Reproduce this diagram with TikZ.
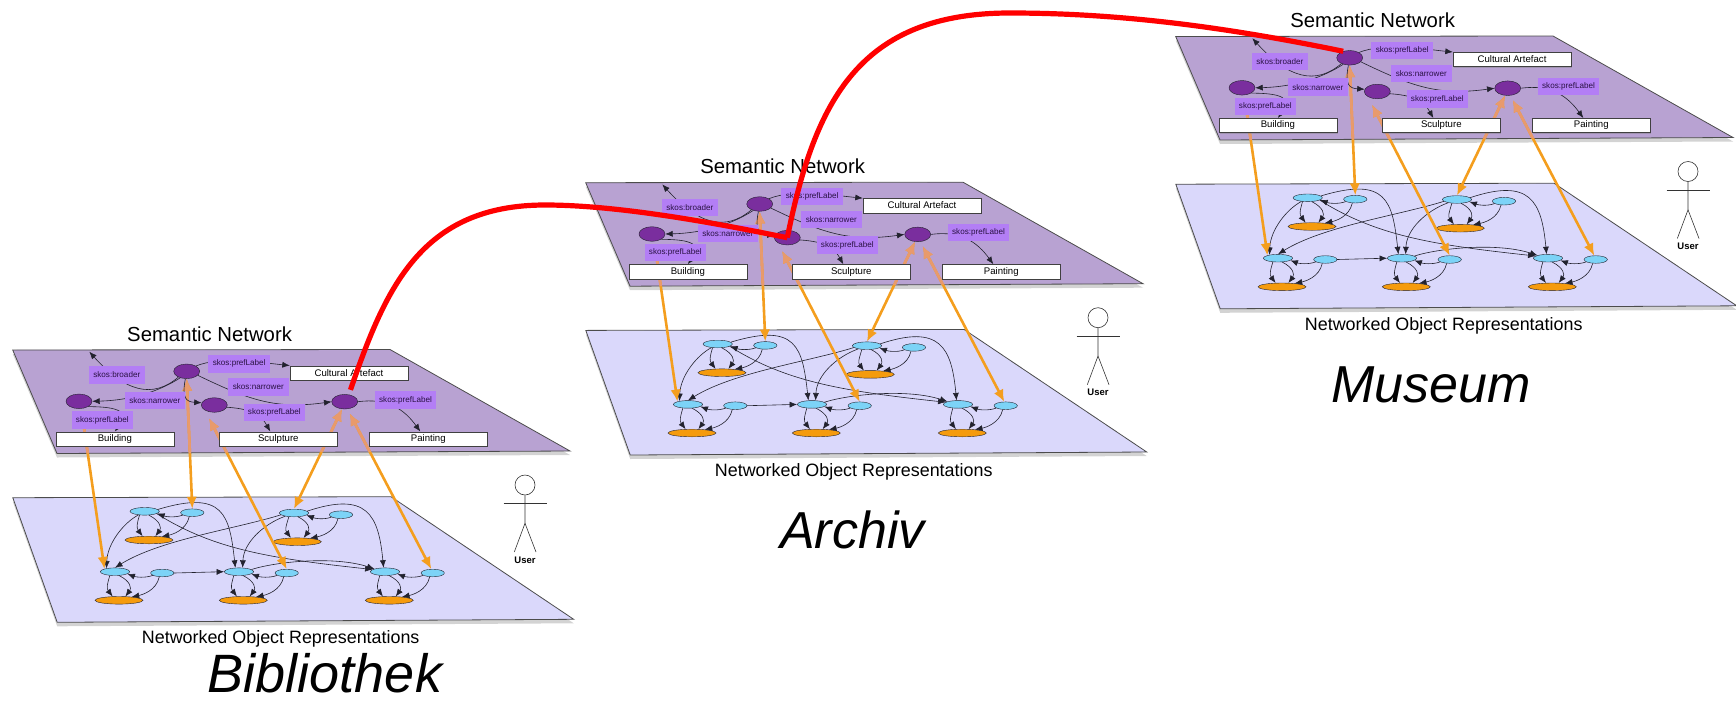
\documentclass[tikz,border=0pt]{standalone}
\usepackage{fontspec}
\setmainfont{Liberation Sans}
\usetikzlibrary{shapes, arrows.meta, shadows}
\definecolor{planeup}{HTML}{B8A2D2}
\definecolor{planelow}{HTML}{DAD8FB}
\definecolor{termbg}{HTML}{B37EF5}
\definecolor{termink}{HTML}{2A1244}
\definecolor{conceptbg}{HTML}{7A2E9E}
\definecolor{objblue}{HTML}{7CD3F7}
\definecolor{objorange}{HTML}{F59B0D}
\definecolor{linkorange}{HTML}{F49E1E}
\definecolor{linksalmon}{HTML}{E89A6C}
\definecolor{edgeink}{HTML}{22222E}
\newcommand{\sz}[1]{\fontsize{#1}{#1}\selectfont}
% the orange links between both layers, drawn twice (second time clipped to the upper plane)
\newcommand{\orangelinks}[1]{%
  \draw[maplink,#1,->] (\pre-foot) -- (\pre-c1.north west);
  \draw[maplink,#1,<->] (\pre-n1.south) -- (\pre-a2.north);
  \draw[maplink,#1,<->,shorten <=9pt] (\pre-n3.south west) -- (\pre-d2.north);
  \draw[maplink,#1,<->] (\pre-n4.250) -- (\pre-b1.north);
  \draw[maplink,#1,<->,shorten <=5pt] (\pre-n4.290) -- (\pre-e2.110);
}

\begin{document}
\begin{tikzpicture}[
  x=1pt, y=-1pt,
  plane/.style    = {draw=black!70, line width=0.8pt, drop shadow={shadow xshift=0pt, shadow yshift=-4pt, opacity=.35}},
  concept/.style  = {draw=edgeink, ellipse, inner sep=0, fill=conceptbg, minimum width=26pt, minimum height=14.6pt},
  mainobj/.style  = {draw=edgeink, ellipse, inner sep=0, fill=objblue, minimum width=29.4pt, minimum height=7.6pt},
  sideobj/.style  = {mainobj, minimum width=23.4pt},
  baseobj/.style  = {mainobj, fill=objorange, minimum width=48pt},
  whitebox/.style = {draw=black!75, fill=white, inner sep=0, minimum width=118pt, minimum height=14.3pt, font=\sz{9.6},
                     drop shadow={shadow xshift=1pt, shadow yshift=-1pt, opacity=.4}},
  term/.style     = {fill=termbg, text=termink, inner sep=0, minimum width=61.5pt, minimum height=17.5pt, font=\sz{8.1}},
  thinlink/.style = {draw=edgeink, line width=0.6pt, >={Latex[length=7.5pt,width=6pt]}},
  maplink/.style  = {line width=2.6pt, >={Latex[length=12pt,width=10.5pt]}},
  redlink/.style  = {draw=red, line width=5.2pt},
  stick/.style    = {draw=black!80, line width=0.6pt},
  place/.style    = {font=\itshape\sz{52}, anchor=base, inner sep=0}]

\useasboundingbox (0,0) rectangle (1736,704);

\foreach \pre/\sx/\sy in {B/0/0, A/573/-167.3, M/1163/-313.5} {
\begin{scope}[shift={(\sx,\sy)}]

% lower layer, plane and objects
\draw[plane, fill=planelow] (12.8,497.7) -- (391,496.7) -- (573.7,619.3) -- (57.2,622.3) -- cycle;
\node[mainobj] (\pre-a1) at (144.7,511.3) {};
\node[sideobj] (\pre-a2) at (192.3,512.7) {};
\node[baseobj] (\pre-a3) at (149,540) {};
\node[mainobj] (\pre-b1) at (294,513) {};
\node[sideobj] (\pre-b2) at (341,514.7) {};
\node[baseobj] (\pre-b3) at (297.3,541.7) {};
\node[mainobj] (\pre-c1) at (115,571.7) {};
\node[sideobj] (\pre-c2) at (162.3,573) {};
\node[baseobj] (\pre-c3) at (119,600.3) {};
\node[mainobj] (\pre-d1) at (239,571.7) {};
\node[sideobj] (\pre-d2) at (286.7,573) {};
\node[baseobj] (\pre-d3) at (243.3,600.3) {};
\node[mainobj] (\pre-e1) at (385,571.7) {};
\node[sideobj] (\pre-e2) at (432.7,573) {};
\node[baseobj] (\pre-e3) at (389.3,600.3) {};

% every object with its neighbours
\foreach \cl in {a,b,c,d,e} {
  \draw[thinlink,->] (\pre-\cl1.216) .. controls +(-3,10) and +(-6,-8) .. (\pre-\cl3.149);
  \draw[thinlink,->] (\pre-\cl1.317) .. controls +(12,6) and +(6,-8) .. (\pre-\cl3.31);
  \draw[thinlink,->] (\pre-\cl2.194) .. controls +(-8,3) and +(8,3) .. (\pre-\cl1.350);
  \draw[thinlink,->] (\pre-\cl2.232) .. controls +(-3,14) and +(10,-2) .. (\pre-\cl3.15);
}

% links across the objects
\draw[thinlink,->] (\pre-a1.8) .. controls +(66,-20) and +(-6,-53) .. (\pre-d1.133);
\draw[thinlink,->] (\pre-a1.210) .. controls +(-15,8) and +(1,-25) .. (\pre-c1.159);
\draw[thinlink,->] (\pre-b1.188) .. controls +(-45,14) and +(45,-28) .. (\pre-c1.north);
\draw[thinlink,->] (\pre-b1.200) .. controls +(-22,8) and +(1,-25) .. (\pre-d1.47);
\draw[thinlink,->] (\pre-b1.8) .. controls +(60,-20) and +(-5,-53) .. (\pre-e1.110);
\draw[thinlink,->] (\pre-a1.349) .. controls +(57,36) and +(-101,-11) .. (\pre-e1.170);
\draw[thinlink,->] (\pre-d1.10) .. controls +(25,-8) and +(-40,-13) .. (\pre-e1.165);
\draw[thinlink,->] (\pre-c2.east) -- (\pre-d1.west);

% upper layer, plane and concepts
\draw[plane, fill=planeup] (12.7,350) -- (390,349.5) -- (570,451) -- (57,453.5) -- cycle;
\node[concept] (\pre-n1) at (186.7,371.3) {};
\node[concept] (\pre-n2) at (79,401.3) {};
\node[concept] (\pre-n3) at (214.3,405) {};
\node[concept] (\pre-n4) at (344.7,401.7) {};

% orange links, paler where they run over the upper plane
\coordinate (\pre-foot) at (84,427.5);
\orangelinks{linkorange}
\begin{scope}
  \clip (12.7,350) -- (390,349.5) -- (570,451) -- (57,453.5) -- cycle;
  \orangelinks{linksalmon}
\end{scope}

\node[whitebox] (\pre-cult) at (349,372.85) {Cultural Artefact};
\node[whitebox] (\pre-bld) at (114.85,438.85) {Building};
\node[whitebox] (\pre-scu) at (278.3,438.85) {Sculpture};
\node[whitebox] (\pre-pai) at (428.3,438.85) {Painting};
\coordinate (\pre-up) at (89.3,351.7);

% relations between the concepts
\draw[thinlink,->] (\pre-n1.215) .. controls +(-26,22) and +(36,40) .. (\pre-up);
\draw[thinlink,->] (\pre-n1.225) .. controls +(-20,13) and +(40,-1) .. (\pre-n2.east);
\draw[thinlink,->] (\pre-n1.260) .. controls +(-4,20) and +(-15,-1) .. (\pre-n3.170);
\draw[thinlink,->] (\pre-n1.340) .. controls +(50,24) and +(-57,8) .. (\pre-n4.west);
\draw[thinlink,->] (\pre-n1.30) .. controls +(25,-10) and +(-30,-3) .. (\pre-cult.north west);
\draw[thinlink,->] (\pre-n2.330) .. controls +(30,0) and +(15,-20) .. (\pre-bld.north);
\draw[thinlink,->] (\pre-n3.350) .. controls +(30,2) and +(-8,-14) .. ([xshift=-8pt]\pre-scu.north);
\draw[thinlink,->] (\pre-n4.east) .. controls +(30,-4) and +(-16,-22) .. ([xshift=-8pt]\pre-pai.north);

\node[term, minimum width=55.7pt] (\pre-bro) at (116.8,375) {skos:broader};
\node[term] (\pre-pl1) at (239.2,363.8) {skos:prefLabel};
\node[term, minimum width=60.5pt] (\pre-na1) at (258.3,387) {skos:narrower};
\node[term, minimum width=60pt] (\pre-na2) at (154.8,400.7) {skos:narrower};
\node[term] (\pre-pl2) at (102.3,420) {skos:prefLabel};
\node[term] (\pre-pl3) at (274.3,412.5) {skos:prefLabel};
\node[term] (\pre-pl4) at (405.5,400) {skos:prefLabel};

% captions
\node[font=\sz{20.3}] (\pre-top) at (209.6,334) {Semantic Network};
\node[font=\sz{17.9}] (\pre-bot) at (280.7,639) {Networked Object Representations};

% the user
\node[draw=black!80, fill=white, circle, line width=0.6pt, inner sep=0, minimum size=20pt] (\pre-head) at (525,485) {};
\draw[stick] (\pre-head.south) -- ++(0,28) coordinate (\pre-hip) -- ++(-10.7,28.7);
\draw[stick] (\pre-hip) -- ++(11,28.7);
\coordinate (\pre-arml) at (503.5,503.3);
\coordinate (\pre-armr) at (546.7,503.3);
\draw[stick] (\pre-arml) -- (\pre-armr);
\node[font=\bfseries\sz{9.5}] (\pre-user) at (525,560) {User};

\end{scope}
}

% names of the three collections
\node[place, font=\itshape\sz{54}] (bib) at (325,692) {Bibliothek};
\node[place] (arc) at (852.5,548) {Archiv};
\node[place] (mus) at (1431,402) {Museum};

% the red links between the collections
\draw[redlink, shorten <=5pt] (B-n4.60) .. controls (385,290) and (420,205) .. (545,205) .. controls (620,205) and (720,224) .. (A-n3.center);
\draw[redlink] (A-n3.center) .. controls (815,100) and (860,13) .. (1010,13) .. controls (1130,13) and (1240,30) .. (M-n1.135);

\end{tikzpicture}
\end{document}
